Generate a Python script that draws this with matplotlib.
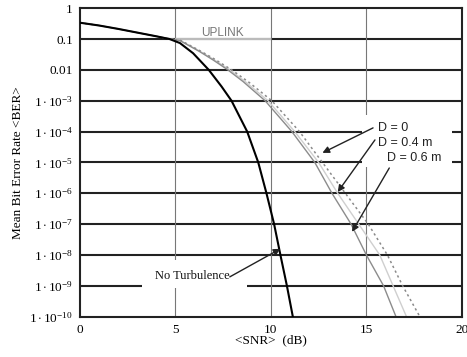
import numpy as np
import matplotlib
matplotlib.use("Agg")
import matplotlib.pyplot as plt
from matplotlib.patches import Rectangle

plt.rcParams['font.family'] = ['Liberation Serif', 'DejaVu Serif']
plt.rcParams['mathtext.fontset'] = 'custom'
plt.rcParams['mathtext.rm'] = 'Liberation Serif'
plt.rcParams['mathtext.it'] = 'Liberation Serif:italic'
plt.rcParams['mathtext.bf'] = 'Liberation Serif:bold'

# ---- data (log10 of BER) ----
snr_noturb = [0, 1, 2, 3, 4, 4.7, 5.24, 5.93, 6.75, 7.42, 7.94, 8.35, 8.76, 9.34, 9.77, 10.17, 10.5, 10.84, 11.15]
logber_noturb = [-0.47, -0.56, -0.67, -0.79, -0.91, -1.0, -1.13, -1.46, -2.0, -2.54, -3.0, -3.5, -4.0, -5.0, -6.0, -7.0, -8.0, -9.0, -10.0]

snr_d06 = [0, 1, 2, 3, 4, 4.6, 5.24, 6.28, 6.98, 7.75, 8.55, 9.7, 11.1, 12.3, 13.2, 14.2, 15.0, 15.9, 16.55]
logber_d06 = [-0.47, -0.56, -0.67, -0.79, -0.91, -0.98, -1.05, -1.41, -1.68, -2.0, -2.38, -3.0, -4.0, -5.0, -6.0, -7.0, -8.0, -9.0, -10.0]

snr_d04 = [0, 1, 2, 3, 4, 4.6, 5.27, 6.3, 7.0, 7.85, 8.7, 9.85, 11.25, 12.5, 13.5, 14.6, 15.7, 16.4, 17.1]
logber_d04 = [-0.47, -0.56, -0.67, -0.79, -0.91, -0.98, -1.05, -1.40, -1.66, -2.0, -2.4, -3.0, -4.0, -5.0, -6.0, -7.0, -8.0, -9.0, -10.0]

snr_d0 = [0, 1, 2, 3, 4, 4.6, 5.3, 6.35, 7.05, 7.95, 8.85, 10.05, 11.5, 12.7, 13.9, 15.1, 16.1, 16.9, 17.8]
logber_d0 = [-0.47, -0.56, -0.67, -0.79, -0.91, -0.98, -1.05, -1.40, -1.65, -2.0, -2.4, -3.0, -4.0, -5.0, -6.0, -7.0, -8.0, -9.0, -10.0]

x_ticks = [0, 5, 10, 15, 20]
y_ticks = [1, 0.1, 0.01, 1e-3, 1e-4, 1e-5, 1e-6, 1e-7, 1e-8, 1e-9, 1e-10]
y_ticklabels = ['1', '0.1', '0.01'] + [r'$1\cdot10^{-%d}$' % k for k in range(3, 11)]

fig = plt.figure(figsize=(4.67, 3.57), dpi=100)
ax = fig.add_axes([0.171, 0.113, 0.818, 0.864])
ax.set_yscale('log')
ax.set_xlim(0, 20)
ax.set_ylim(1e-10, 1)

# grid
for y in y_ticks[1:-1]:
    ax.axhline(y, color='#222222', lw=1.5, zorder=0.5)
for x in x_ticks[1:-1]:
    ax.axvline(x, color='#777777', lw=0.8, zorder=0.5)
# lighter segment under UPLINK
ax.hlines(0.1, 5, 10, color='#bbbbbb', lw=1.5, zorder=0.6)

# white background boxes for labels
ax.add_patch(Rectangle((0.738, 0.485), 0.236, 0.169, transform=ax.transAxes,
                       facecolor='white', edgecolor='none', zorder=1))
ax.add_patch(Rectangle((0.162, 0.093), 0.275, 0.091, transform=ax.transAxes,
                       facecolor='white', edgecolor='none', zorder=1))

# curves
ax.plot(snr_d04, 10 ** np.array(logber_d04), color='#cfcfcf', lw=1.0, zorder=2)
ax.plot(snr_d06, 10 ** np.array(logber_d06), color='#8c8c8c', lw=1.0, zorder=2.1)
ax.plot(snr_d0, 10 ** np.array(logber_d0), color='#8a8a8a', lw=1.1, ls=(0, (1.5, 2.0)), zorder=2.2)
ax.plot(snr_noturb, 10 ** np.array(logber_noturb), color='black', lw=1.5, zorder=3)

# annotations
ax.text(7.45, 10 ** -1.0, 'UPLINK', family=['Liberation Sans'], fontsize=8.5,
        color='#777777', ha='center', va='bottom', zorder=4)
sans = ['Liberation Sans', 'DejaVu Sans']
ax.text(15.6, 10 ** -3.88, 'D = 0', family=sans, fontsize=9, color='#222222', va='center', zorder=4)
ax.text(15.6, 10 ** -4.37, 'D = 0.4 m', family=sans, fontsize=9, color='#222222', va='center', zorder=4)
ax.text(16.1, 10 ** -4.85, 'D = 0.6 m', family=sans, fontsize=9, color='#222222', va='center', zorder=4)
ax.text(5.9, 10 ** -8.68, 'No Turbulence', fontsize=9, color='#111111', ha='center', va='center', zorder=4)

arrow = dict(arrowstyle='-|>', color='#222222', lw=1.0, mutation_scale=10, shrinkA=0, shrinkB=0)
ax.annotate('', xy=(12.7, 10 ** -4.69), xytext=(15.35, 10 ** -3.88), arrowprops=arrow, zorder=4)
ax.annotate('', xy=(13.5, 10 ** -5.96), xytext=(15.45, 10 ** -4.27), arrowprops=arrow, zorder=4)
ax.annotate('', xy=(14.25, 10 ** -7.25), xytext=(16.2, 10 ** -5.18), arrowprops=arrow, zorder=4)
ax.annotate('', xy=(10.5, 10 ** -7.8), xytext=(7.85, 10 ** -8.71), arrowprops=arrow, zorder=4)

# ticks
ax.set_xticks(x_ticks)
ax.set_xticklabels([str(v) for v in x_ticks], fontsize=9.5)
ax.set_yticks(y_ticks)
ax.set_yticklabels(y_ticklabels, fontsize=9.5)
ax.yaxis.set_minor_locator(matplotlib.ticker.NullLocator())
ax.tick_params(length=0, pad=5)

for s in ax.spines.values():
    s.set_linewidth(1.5)
    s.set_color('#222222')

ax.set_xlabel('<SNR>  (dB)', fontsize=9.5, labelpad=-1)
ax.set_ylabel('Mean Bit Error Rate <BER>', fontsize=9.5, labelpad=4)

fig.savefig('out.png', dpi=100)
